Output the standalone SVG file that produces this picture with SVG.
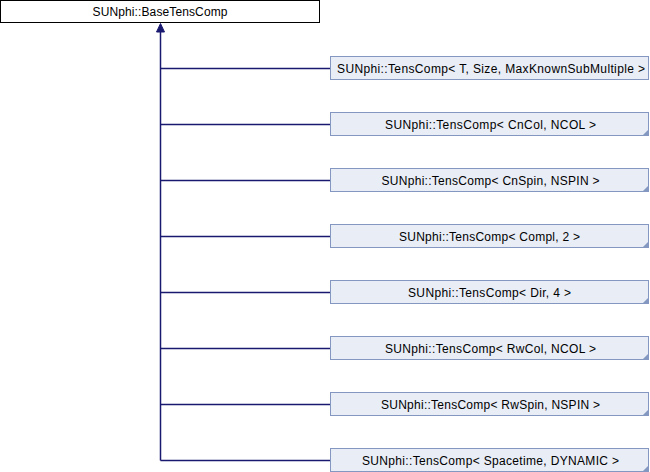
<svg xmlns="http://www.w3.org/2000/svg" width="650" height="472" viewBox="0 0 650 472">
<style>
.base{fill:#ffffff;stroke:#000000;stroke-width:1}
.child{fill:#e9edf6;stroke:#8497c1;stroke-width:1}
.fold{fill:#8497c1}
text{font-family:"Liberation Sans",Arial,sans-serif;font-size:12px;fill:#000000;text-anchor:middle}
.edge{fill:none;stroke:#191970;stroke-width:1.5}
</style>
<rect width="650" height="472" fill="#ffffff"/>
<g id="connectors">
<path class="edge" d="M160.5,30 V460.5"/>
<path class="edge" d="M160.5,68.5 H330 M160.5,124.5 H330 M160.5,180.5 H330 M160.5,236.5 H330 M160.5,292.5 H330 M160.5,348.5 H330 M160.5,404.5 H330 M160.5,460.5 H330"/>
<polygon points="160.5,23.5 156.5,32 164.5,32" fill="#191970" stroke="#191970" stroke-width="1"/>
</g>
<g id="base">
<rect class="base" x="0.5" y="0.5" width="319" height="22"/>
<text x="160" y="15.5" textLength="135" lengthAdjust="spacing">SUNphi::BaseTensComp</text>
</g>
<g id="n1">
<rect class="child" x="330.5" y="56.5" width="318" height="23"/>
<text x="491" y="73" textLength="308" lengthAdjust="spacing">SUNphi::TensComp&lt; T, Size, MaxKnownSubMultiple &gt;</text>
</g>
<g id="n2">
<rect class="child" x="330.5" y="112.5" width="318" height="23"/>
<polygon class="fold" points="648,130 648,135 643,135"/>
<text x="490.5" y="129" textLength="211" lengthAdjust="spacing">SUNphi::TensComp&lt; CnCol, NCOL &gt;</text>
</g>
<g id="n3">
<rect class="child" x="330.5" y="168.5" width="318" height="23"/>
<polygon class="fold" points="648,186 648,191 643,191"/>
<text x="490.5" y="185" textLength="218" lengthAdjust="spacing">SUNphi::TensComp&lt; CnSpin, NSPIN &gt;</text>
</g>
<g id="n4">
<rect class="child" x="330.5" y="224.5" width="318" height="23"/>
<polygon class="fold" points="648,242 648,247 643,247"/>
<text x="489.5" y="241" textLength="181" lengthAdjust="spacing">SUNphi::TensComp&lt; Compl, 2 &gt;</text>
</g>
<g id="n5">
<rect class="child" x="330.5" y="280.5" width="318" height="23"/>
<polygon class="fold" points="648,298 648,303 643,303"/>
<text x="489.5" y="297" textLength="163" lengthAdjust="spacing">SUNphi::TensComp&lt; Dir, 4 &gt;</text>
</g>
<g id="n6">
<rect class="child" x="330.5" y="336.5" width="318" height="23"/>
<polygon class="fold" points="648,354 648,359 643,359"/>
<text x="490.5" y="353" textLength="211" lengthAdjust="spacing">SUNphi::TensComp&lt; RwCol, NCOL &gt;</text>
</g>
<g id="n7">
<rect class="child" x="330.5" y="392.5" width="318" height="23"/>
<polygon class="fold" points="648,410 648,415 643,415"/>
<text x="490.5" y="409" textLength="219" lengthAdjust="spacing">SUNphi::TensComp&lt; RwSpin, NSPIN &gt;</text>
</g>
<g id="n8">
<rect class="child" x="330.5" y="448.5" width="318" height="23"/>
<polygon class="fold" points="648,466 648,471 643,471"/>
<text x="490.5" y="465" textLength="257" lengthAdjust="spacing">SUNphi::TensComp&lt; Spacetime, DYNAMIC &gt;</text>
</g>
</svg>
